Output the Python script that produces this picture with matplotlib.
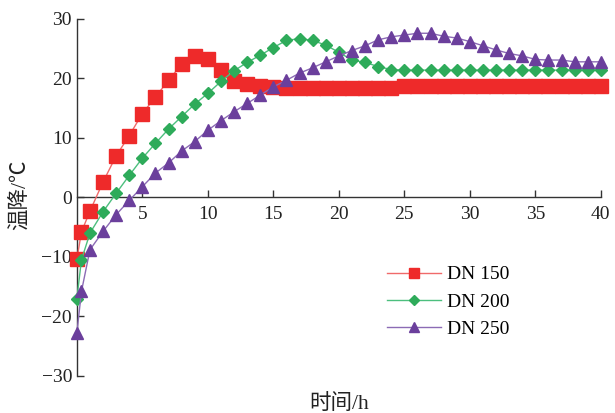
import numpy as np
import matplotlib
matplotlib.use("Agg")
from matplotlib import pyplot as plt

hours = [0, 0.35, 1] + list(range(2, 41))

dn150 = [-10.4, -5.8, -2.3, 2.6, 7.0, 10.4, 14.1, 16.9, 19.7, 22.4, 23.7, 23.2,
         21.4, 19.6, 19.0, 18.8, 18.5, 18.4, 18.4, 18.4, 18.4, 18.4, 18.4, 18.4,
         18.4, 18.4, 18.8, 18.8, 18.8, 18.8, 18.8, 18.8, 18.8, 18.8, 18.8, 18.8,
         18.8, 18.8, 18.8, 18.7, 18.7, 18.7]
dn200 = [-17.0, -10.5, -6.0, -2.4, 0.7, 3.7, 6.6, 9.1, 11.5, 13.6, 15.7, 17.5,
         19.5, 21.3, 22.7, 23.9, 25.2, 26.4, 26.7, 26.4, 25.6, 24.4, 23.1, 22.7,
         22.0, 21.5, 21.4, 21.4, 21.4, 21.4, 21.4, 21.4, 21.4, 21.4, 21.4, 21.4,
         21.4, 21.4, 21.4, 21.5, 21.5, 21.5]
dn250 = [-22.8, -15.8, -8.8, -5.7, -2.9, -0.5, 1.8, 4.1, 5.8, 7.8, 9.4, 11.3,
         12.9, 14.4, 15.8, 17.2, 18.6, 19.7, 20.9, 21.8, 22.8, 23.8, 24.7, 25.5,
         26.5, 27.0, 27.3, 27.6, 27.6, 27.1, 26.8, 26.2, 25.5, 24.8, 24.2, 23.8,
         23.2, 23.1, 23.1, 22.8, 22.8, 22.8]

labels = ["DN 150", "DN 200", "DN 250"]

plt.rcParams['font.family'] = ['Liberation Serif', 'Noto Sans CJK SC']
plt.rcParams['mathtext.fontset'] = 'stix'

fig = plt.figure(figsize=(6.15, 4.13), dpi=100)
ax = fig.add_axes([0.125, 0.090, 0.852, 0.864])

ax.plot(hours, dn150, color='#f06a6a', lw=1.0, marker='s', ms=9.5,
        mfc='#ee2a2a', mec='#ee2a2a', label=labels[0], clip_on=False, zorder=3)
ax.plot(hours, dn200, color='#4cbf7e', lw=1.0, marker='D', ms=6.5,
        mfc='#2eab5a', mec='#2eab5a', label=labels[1], clip_on=False, zorder=4)
ax.plot(hours, dn250, color='#8c6bb5', lw=1.0, marker='^', ms=9,
        mfc='#6b3f9c', mec='#6b3f9c', label=labels[2], clip_on=False, zorder=5)

ax.set_xlim(0, 40)
ax.set_ylim(-30, 30)
ax.set_xticks(range(5, 41, 5))
ax.set_yticks(range(-30, 31, 10))
ax.spines['top'].set_visible(False)
ax.spines['right'].set_visible(False)
ax.spines['bottom'].set_position(('data', 0))
for s in ('left', 'bottom'):
    ax.spines[s].set_color('#333333')
    ax.spines[s].set_linewidth(1.0)
ax.tick_params(direction='in', length=5, width=1.0, color='#333333',
               labelsize=14, labelcolor='#222222')
ax.tick_params(axis='x', pad=6)

fig.text(339 / 615, 1 - 404 / 413, '时间/h', ha='center', va='center',
         fontsize=15.5, color='#222222')
fig.text(20 / 615, 1 - 195 / 413, '温降/℃', ha='center', va='center',
         rotation=90, fontsize=15.5, color='#222222')

ax.legend(loc='center left', bbox_to_anchor=(387 / 615, 1 - 302 / 413),
          bbox_transform=fig.transFigure, frameon=False, fontsize=14,
          handlelength=2.8, handletextpad=0.3, labelspacing=0.5, borderpad=0,
          borderaxespad=0, markerscale=0.8)

fig.savefig('out.png', dpi=100)
